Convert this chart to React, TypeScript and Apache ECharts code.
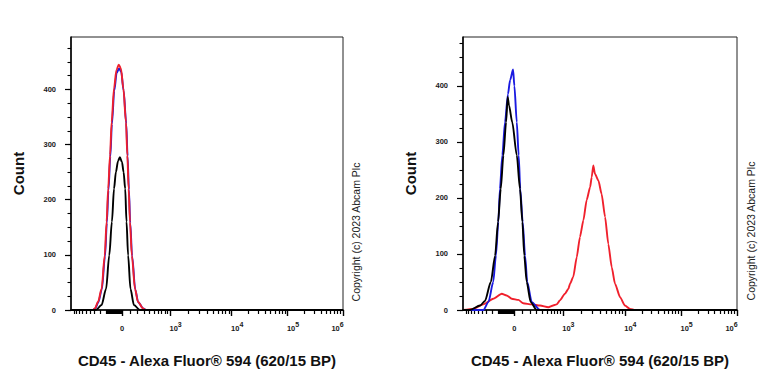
import React, { useEffect, useRef } from 'react';
import * as echarts from 'echarts';

// ---------- data (x in display channels 0..1024 of the biexponential axis, y = count) ----------
const LEFT_RED_CH = [0, 83, 90, 102, 115, 127, 134, 140, 147, 153, 162, 171, 180, 188, 197, 207, 212, 217, 222, 229, 241, 252, 271, 282, 1024];
const LEFT_RED_COUNT = [0, 0, 3, 15, 38, 99, 160, 220, 281, 341, 402, 435, 445, 438, 402, 341, 281, 220, 160, 99, 38, 15, 3, 0, 0];

const LEFT_BLUE_CH = [0, 84, 91, 103, 116, 128, 135, 141, 148, 154, 163, 172, 181, 189, 198, 208, 213, 218, 223, 230, 242, 253, 272, 283, 1024];
const LEFT_BLUE_COUNT = [0, 0, 3, 14, 37, 97, 158, 217, 278, 337, 398, 430, 438, 432, 398, 338, 279, 218, 158, 98, 37, 14, 3, 0, 0];

const LEFT_BLACK_CH = [0, 94, 115, 132, 144, 154, 162, 169, 177, 184, 192, 198, 204, 209, 215, 224, 237, 259, 1024];
const LEFT_BLACK_COUNT = [0, 0, 9, 38, 99, 160, 220, 250, 270, 277, 268, 250, 220, 160, 99, 38, 9, 0, 0];

const RIGHT_RED_CH = [0, 38, 76, 113, 145, 163, 182, 207, 225, 257, 288, 319, 337, 350, 362, 381, 394, 400, 412, 425, 437, 450, 462, 475, 481, 487, 493, 506, 518, 531, 543, 556, 568, 587, 605, 624, 643, 1024];
const RIGHT_RED_COUNT = [0, 2, 10, 20, 29, 26, 20, 18, 12, 10, 8, 5, 8, 10, 17, 29, 38, 47, 59, 94, 130, 160, 196, 219, 237, 258, 243, 231, 207, 166, 118, 76, 47, 23, 8, 2, 0, 0];

const RIGHT_BLUE_CH = [0, 76, 95, 113, 123, 132, 138, 147, 157, 168, 176, 187, 192, 201, 208, 214, 223, 232, 240, 257, 288, 1024];
const RIGHT_BLUE_COUNT = [0, 0, 14, 50, 97, 157, 216, 276, 335, 385, 410, 429, 400, 335, 276, 216, 157, 97, 50, 14, 0, 0];

const RIGHT_BLACK_CH = [0, 26, 64, 82, 104, 120, 131, 141, 151, 161, 167, 172, 184, 201, 213, 222, 229, 238, 253, 275, 1024];
const RIGHT_BLACK_COUNT = [0, 0, 8, 16, 50, 97, 157, 216, 276, 335, 380, 365, 335, 276, 216, 157, 97, 50, 14, 0, 0];

// axis ticks / labels
const X_MAJOR_VALUES = [0, 1e3, 1e4, 1e5, 1e6];
const X_MAJOR_EXPONENTS = ['', '3', '4', '5', '6'];
const Y_LABEL_VALUES = [0, 100, 200, 300, 400];
const Y_MAX = [495, 487];
const X_TITLE = 'CD45 - Alexa Fluor® 594 (620/15 BP)';
const Y_TITLE = 'Count';
const COPYRIGHT = 'Copyright (c) 2023 Abcam Plc';

// ---------- biexponential display scale ----------
const CH_MAX = 1024;
function toChannel(v: number): number {
  const lin = (x: number) => 192 + 94.5 * Math.asinh(x / 300);
  if (v <= 1000) return lin(v);
  const knotsCh = [lin(1000), 605, 815, 1024];
  const lg = Math.log10(v);
  const i = Math.min(2, Math.floor(lg) - 3);
  return knotsCh[i] + (lg - 3 - i) * (knotsCh[i + 1] - knotsCh[i]);
}

function minorValues(): number[] {
  const out: number[] = [];
  for (let v = -1000; v <= -300; v += 100) out.push(v);
  for (let v = -200; v <= -10; v += 10) out.push(v);
  for (let v = 100; v <= 900; v += 100) out.push(v);
  for (let d = 1e3; d < 1e6; d *= 10) for (let k = 2; k <= 9; k++) out.push(k * d);
  return out;
}

const FONT = '"Liberation Sans", Arial, sans-serif';

export default function App() {
  const ref = useRef<HTMLDivElement>(null);

  useEffect(() => {
    if (!ref.current) return;
    const chart = echarts.init(ref.current, undefined, { renderer: 'svg' });

    const majorCh = X_MAJOR_VALUES.map(toChannel);
    const minorCh = minorValues().map(toChannel);
    const yMinor: number[] = [];
    for (let v = 0; v <= 475; v += 25) yMinor.push(v);

    const labelFmt = (val: number) => {
      let idx = 0;
      let best = Infinity;
      majorCh.forEach((c, i) => {
        const d = Math.abs(c - val);
        if (d < best) { best = d; idx = i; }
      });
      if (idx === 0) return '{b0|0}';
      if (idx === majorCh.length - 1) return '{b|10}{sR|' + X_MAJOR_EXPONENTS[idx] + '}';
      return '{bL|10}{s|' + X_MAJOR_EXPONENTS[idx] + '}';
    };
    const base = { fontFamily: FONT, fontWeight: 'bold', color: '#1a1a1a', fontSize: 7.5, lineHeight: 8 };
    const rich = {
      b0: { ...base, padding: [7, 0, 0, 0] },
      b: { ...base, padding: [7, 0, 0, 0] },
      bL: { ...base, padding: [7, 0, 0, 11] },
      s: { ...base, fontSize: 7, verticalAlign: 'top' },
      sR: { ...base, fontSize: 7, verticalAlign: 'top', padding: [0, 11, 0, 0] },
    };

    const grids = [
      { left: 71, top: 37, width: 272, height: 273 },
      { left: 463, top: 37, width: 274, height: 273 },
    ].map((g) => ({ ...g, show: true, borderColor: '#222', borderWidth: 1, backgroundColor: 'transparent' }));

    const xAxis: any[] = [];
    const yAxis: any[] = [];
    [0, 1].forEach((g) => {
      xAxis.push({
        type: 'value', gridIndex: g, position: 'bottom', min: 0, max: CH_MAX,
        splitLine: { show: false },
        axisLine: { show: true, onZero: false, lineStyle: { color: '#000', width: 1.7 } },
        axisTick: { show: true, customValues: majorCh, length: 6, lineStyle: { color: '#000', width: 1.4 } },
        axisLabel: { show: true, customValues: majorCh, formatter: labelFmt, rich, margin: 11 },
        name: X_TITLE, nameLocation: 'middle', nameGap: 43,
        nameTextStyle: { fontFamily: FONT, fontSize: 15, fontWeight: 'bold', color: '#111' },
      });
      xAxis.push({
        type: 'value', gridIndex: g, position: 'bottom', min: 0, max: CH_MAX,
        splitLine: { show: false },
        axisLine: { show: false, onZero: false },
        axisTick: { show: true, customValues: minorCh, length: 4, lineStyle: { color: '#000', width: 1.2 } },
        axisLabel: { show: false },
      });
      yAxis.push({
        type: 'value', gridIndex: g, position: 'left', min: 0, max: Y_MAX[g],
        splitLine: { show: false },
        axisLine: { show: true, onZero: false, lineStyle: { color: '#000', width: 1.5 } },
        axisTick: { show: true, customValues: Y_LABEL_VALUES, length: 6, lineStyle: { color: '#000', width: 1.2 } },
        axisLabel: { show: true, customValues: Y_LABEL_VALUES, fontFamily: FONT, fontWeight: 'bold', fontSize: 7.5, color: '#1a1a1a', margin: 15 },
        name: Y_TITLE, nameLocation: 'middle', nameGap: 45, nameRotate: 90,
        nameTextStyle: { fontFamily: FONT, fontSize: 15, fontWeight: 'bold', color: '#111' },
      });
      yAxis.push({
        type: 'value', gridIndex: g, position: 'left', min: 0, max: Y_MAX[g],
        splitLine: { show: false },
        axisLine: { show: false, onZero: false },
        axisTick: { show: true, customValues: yMinor, length: 3.5, lineStyle: { color: '#000', width: 1.1 } },
        axisLabel: { show: false },
      });
    });

    const mk = (name: string, xs: number[], ys: number[], g: number, color: string, smooth: number) => ({
      name, type: 'line', xAxisIndex: g * 2, yAxisIndex: g * 2,
      data: xs.map((x, i) => [x, ys[i]]),
      showSymbol: false, symbol: 'none', smooth, smoothMonotone: 'x',
      lineStyle: { color, width: 1.9 },
      silent: true,
    });

    const RED = '#f0202c';
    const BLUE = '#1a1ae0';
    const BLACK = '#000000';

    chart.setOption({
      animation: false,
      grid: grids,
      xAxis, yAxis,
      series: [
        mk('blueL', LEFT_BLUE_CH, LEFT_BLUE_COUNT, 0, BLUE, 0.3),
        mk('redL', LEFT_RED_CH, LEFT_RED_COUNT, 0, RED, 0.3),
        mk('blackL', LEFT_BLACK_CH, LEFT_BLACK_COUNT, 0, BLACK, 0.3),
        mk('redR', RIGHT_RED_CH, RIGHT_RED_COUNT, 1, RED, 0.2),
        mk('blueR', RIGHT_BLUE_CH, RIGHT_BLUE_COUNT, 1, BLUE, 0.25),
        mk('blackR', RIGHT_BLACK_CH, RIGHT_BLACK_COUNT, 1, BLACK, 0.25),
      ],
      graphic: [
        { type: 'text', x: 355.5, y: 232, rotation: Math.PI / 2,
          style: { text: COPYRIGHT, fontFamily: FONT, fontSize: 10.5, fill: '#222', align: 'center', verticalAlign: 'middle', textAlign: 'center', textVerticalAlign: 'middle' } },
        { type: 'text', x: 750.5, y: 231, rotation: Math.PI / 2,
          style: { text: COPYRIGHT, fontFamily: FONT, fontSize: 10.5, fill: '#222', align: 'center', verticalAlign: 'middle', textAlign: 'center', textVerticalAlign: 'middle' } },
      ],
    });

    return () => chart.dispose();
  }, []);

  return (
    <div
      ref={ref}
      style={{ position: 'absolute', left: 0, top: 0, width: 768, height: 384, background: '#fff' }}
    />
  );
}
